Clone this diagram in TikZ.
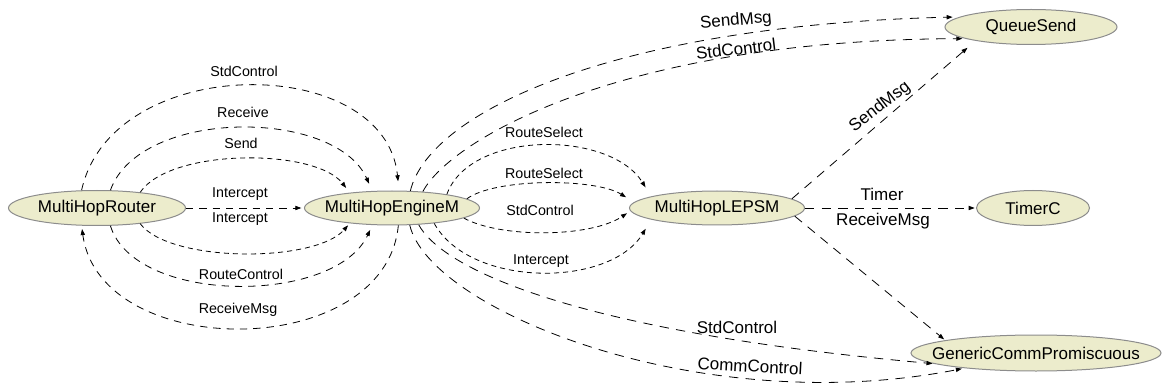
\documentclass[tikz,border=0pt]{standalone}
\usepackage{fontspec}
\setmainfont{Liberation Sans}
\usetikzlibrary{shapes.geometric,arrows.meta}

\definecolor{compfill}{RGB}{236,236,204}
\definecolor{compline}{RGB}{140,140,140}

\tikzset{
  comp/.style={ellipse, draw=compline, line width=0.75pt, fill=compfill, inner sep=0pt, font=\fontsize{12.75}{15}\selectfont},
  wire/.style={line width=0.6pt, -{Triangle[length=4.5pt,width=3.2pt]}, shorten >=2pt},
  lnk/.style={wire, dash pattern=on 5.5pt off 4.5pt},
  slnk/.style={wire, dash pattern=on 3.8pt off 3pt},
  blnk/.style={wire, dash pattern=on 7pt off 5.5pt},
  slbl/.style={inner sep=0pt, font=\fontsize{10.7}{12}\selectfont},
  blbl/.style={inner sep=0pt, font=\fontsize{12.75}{15}\selectfont}
}

\begin{document}
\begin{tikzpicture}[x=0.75pt,y=0.75pt,yscale=-1,xscale=1]
\useasboundingbox (0,0) rectangle (1164,392);

% Components
\node [comp, minimum width=132.75pt, minimum height=26.25pt] (rtr) at (97,208) {\makebox[0pt]{MultiHopRouter}};
\node [comp, minimum width=131.25pt, minimum height=25.5pt] (eng) at (392,208) {\makebox[0pt]{MultiHopEngineM}};
\node [comp, minimum width=131.25pt, minimum height=25.5pt] (leps) at (717,208) {\makebox[0pt]{MultiHopLEPSM}};
\node [comp, minimum width=129pt, minimum height=26.25pt] (qsend) at (1031,27) {\makebox[0pt]{QueueSend}};
\node [comp, minimum width=84.75pt, minimum height=26.25pt] (tmr) at (1033,208) {\makebox[0pt]{TimerC}};
\node [comp, minimum width=187.5pt, minimum height=27pt] (gcp) at (1036,353) {\makebox[0pt]{GenericCommPromiscuous}};

%Curve Lines: router - engine
\draw [lnk, shorten >=7pt] (rtr.131) .. controls (112,52) and (385,52) .. (eng.68);
\draw [lnk, shorten >=6pt] (rtr.53) .. controls (140,108) and (335,108) .. (eng.139);
\draw [slnk, shorten >=4.5pt] (rtr.20) .. controls (170,148) and (315,148) .. (eng.160);
\draw [lnk] (rtr.east) -- (eng.west);
\draw [slnk] (rtr.-20) .. controls (170,263) and (315,263) .. (eng.200);
\draw [lnk, shorten >=4pt] (rtr.-53) .. controls (135,305) and (335,305) .. (eng.221);
\draw [lnk, shorten >=2.5pt] (eng.-70) .. controls (385,362) and (100,362) .. (rtr.229);

%Curve Lines: engine - LEPSM
\draw [slnk, shorten >=8pt] (eng.14) .. controls (470,130) and (610,130) .. (leps.170);
\draw [slnk, shorten >=7pt] (eng.7) .. controls (495,178) and (595,178) .. (leps.176);
\draw [slnk, shorten >=3pt] (eng.-8) .. controls (500,238) and (590,238) .. (leps.182);
\draw [slnk, shorten >=8pt] (eng.-20) .. controls (470,288) and (610,288) .. (leps.190);

%Curve Lines: engine - QueueSend
\draw [blnk, shorten >=5pt] (eng.43) .. controls (430,110) and (620,25) .. (qsend.172);
\draw [blnk] (eng.28) .. controls (450,140) and (620,40) .. (qsend.190);

%Curve Lines: engine - GenericCommPromiscuous
\draw [blnk, shorten >=1pt] (eng.-32) .. controls (440,265) and (560,330) .. (gcp.186);
\draw [blnk] (eng.-44) .. controls (430,310) and (700,420) .. (gcp.192);

%Straight Lines: LEPSM
\draw [blnk, shorten >=8pt] (leps.7) -- (qsend.194);
\draw [blnk, shorten >=1pt] (leps.east) -- (tmr.west);
\draw [blnk, shorten >=1pt] (leps.-6) -- (gcp.172);

% Text Node
\draw (244,71) node [slbl] (t1) {StdControl};
% Text Node
\draw (243,112) node [slbl] (t2) {Receive};
% Text Node
\draw (241,143) node [slbl] (t3) {Send};
% Text Node
\draw (240,194) node [slbl] (t4) {Intercept};
% Text Node
\draw (240,219) node [slbl] (t5) {Intercept};
% Text Node
\draw (241,274) node [slbl] (t6) {RouteControl};
% Text Node
\draw (238,310) node [slbl] (t7) {ReceiveMsg};
% Text Node
\draw (544,132) node [slbl] (t8) {RouteSelect};
% Text Node
\draw (544,173) node [slbl] (t9) {RouteSelect};
% Text Node
\draw (540,210) node [slbl] (t10) {StdControl};
% Text Node
\draw (541,261) node [slbl] (t11) {Intercept};
% Text Node
\draw (736,21) node [blbl, rotate=5] (t12) {SendMsg};
% Text Node
\draw (736,49) node [blbl, rotate=7] (t13) {StdControl};
% Text Node
\draw (880,107) node [blbl, rotate=38] (t14) {SendMsg};
% Text Node
\draw (882,194) node [blbl] (t15) {Timer};
% Text Node
\draw (883,221) node [blbl] (t16) {ReceiveMsg};
% Text Node
\draw (737,327) node [blbl] (t17) {StdControl};
% Text Node
\draw (750,366) node [blbl, rotate=-3] (t18) {CommControl};

\end{tikzpicture}
\end{document}
